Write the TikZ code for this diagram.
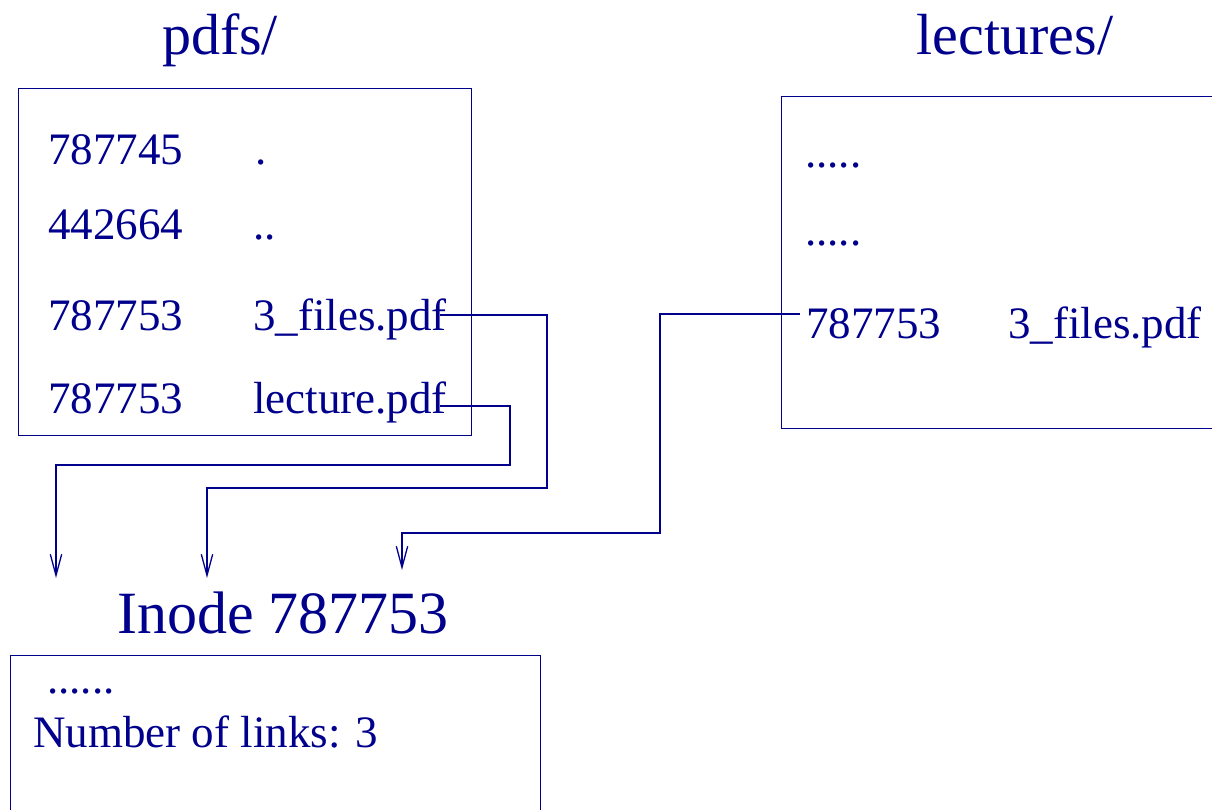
\documentclass[tikz,border=0pt]{standalone}
\usepackage{fontspec}
\setmainfont{Liberation Serif}
\usetikzlibrary{arrows.meta}
\definecolor{navy}{RGB}{0,0,140}
\begin{document}
\begin{tikzpicture}[x=1pt,y=-1pt,
  every node/.style={text=navy, inner sep=0pt, anchor=base west},
  body/.style={font=\fontsize{45}{50}\selectfont},
  ttl/.style={font=\fontsize{58}{62}\selectfont},
  box/.style={draw=navy, line width=1.4pt, anchor=north west},
  link/.style={draw=navy, line width=1.3pt, -{Straight Barb[angle=30:22pt]}}]
\useasboundingbox (0,0) rectangle (1212,810);
\clip (0,0) rectangle (1212,810);
% titles
\node[ttl, anchor=base] (tpdfs) at (220,55) {pdfs/};
\node[ttl, anchor=base] (tlect) at (1015,55) {lectures/};
\node[font=\fontsize{60}{64}\selectfont, anchor=base] (tinode) at (283,633) {Inode 787753};
% boxes
\node[box, minimum width=453pt, minimum height=347pt] (pdfbox) at (18,88) {};
\node[box, minimum width=460pt, minimum height=332pt] (lectbox) at (781,96) {};
\node[box, minimum width=530pt, minimum height=200pt] (inodebox) at (10,655) {};
% pdfs entries
\node[body] (n1) at (48,165) {787745};
\node[body] (f1) at (255,165) {.};
\node[body] (n2) at (48,240) {442664};
\node[body] (f2) at (253,240) {..};
\node[body] (n3) at (48,330) {787753};
\node[body] (f3) at (253,330) {3\_files.pdf};
\node[body] (n4) at (48,413) {787753};
\node[body] (f4) at (253,413) {lecture.pdf};
% lectures entries
\node[body] (l1) at (805,168) {.....};
\node[body] (l2) at (805,246) {.....};
\node[body] (l3) at (806,338) {787753};
\node[body] (lf3) at (1008,338) {3\_files.pdf};
% inode entries
\node[body] (i1) at (47,693) {......};
\node[font=\fontsize{45}{50}\selectfont] (i2) at (33,747) {Number of links: 3};
% connectors
\coordinate (s3) at ([xshift=-7pt,yshift=15pt]f3.base east);
\coordinate (s4) at ([xshift=-7pt,yshift=7pt]f4.base east);
\coordinate (sl) at ([xshift=-6pt,yshift=24pt]l3.base west);
\coordinate (t1) at (56,578);
\coordinate (t2) at (207,578);
\coordinate (t3) at (402,570);
\draw[link] (s4) -- (s4 -| 510,0) -- (510,465) -- (56,465) -- (t1);
\draw[link] (s3) -- (s3 -| 547,0) -- (547,488) -- (207,488) -- (t2);
\draw[link] (sl) -- (sl -| 660,0) -- (660,533) -- (402,533) -- (t3);
\end{tikzpicture}
\end{document}
